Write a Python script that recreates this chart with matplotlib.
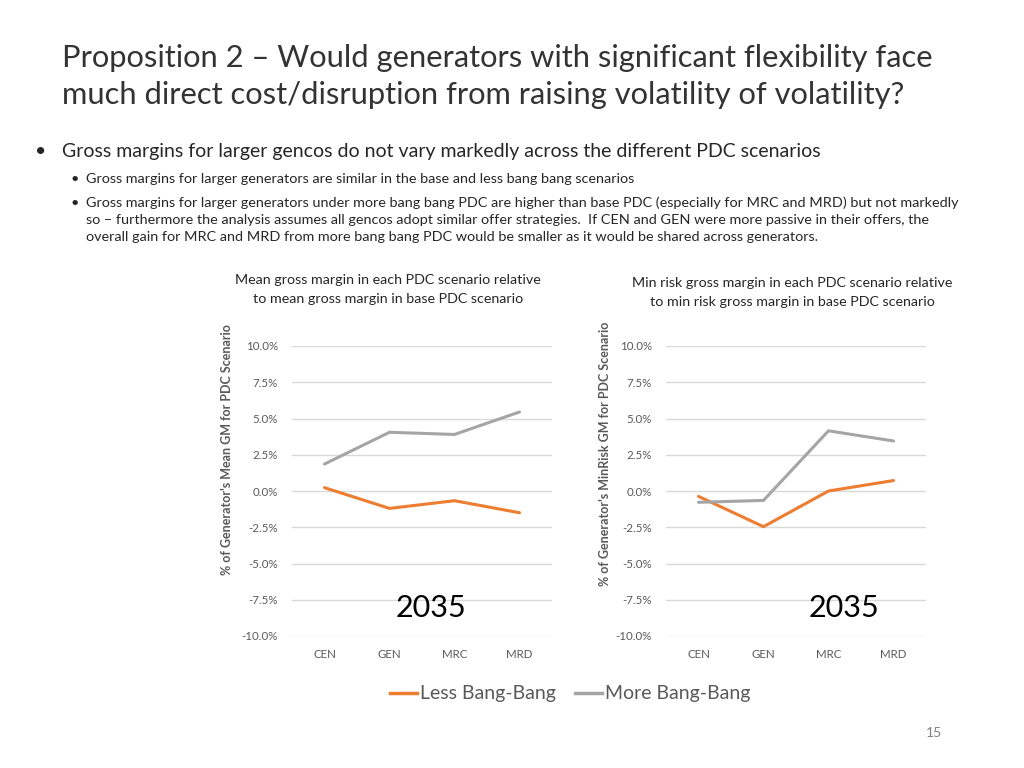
import matplotlib.pyplot as plt
import matplotlib.lines as mlines

categories = ["CEN", "GEN", "MRC", "MRD"]
yticks = [-10, -7.5, -5, -2.5, 0, 2.5, 5, 7.5, 10]

mean_less = [0.23, -1.2, -0.67, -1.5]
mean_more = [1.86, 4.05, 3.9, 5.45]
minrisk_less = [-0.37, -2.46, 0.0, 0.72]
minrisk_more = [-0.78, -0.65, 4.15, 3.45]

ORANGE = "#ED7D31"
GREY = "#A5A5A5"
TXT = "#595959"

plt.rcParams["font.family"] = ["Lato", "DejaVu Sans"]

fig = plt.figure(figsize=(10.24, 7.68), dpi=100)

# slide title and bullets
fig.text(62 / 1024, 1 - 58 / 768, "Proposition 2 \u2013 Would generators with significant flexibility face",
         fontsize=22.2, color="#333333", va="center", ha="left")
fig.text(62 / 1024, 1 - 95 / 768, "much direct cost/disruption from raising volatility of volatility?",
         fontsize=22.2, color="#333333", va="center", ha="left")

fig.text(35 / 1024, 1 - 152 / 768, "\u2022", fontsize=14, va="center", color="#262626")
fig.text(62 / 1024, 1 - 152 / 768,
         "Gross margins for larger gencos do not vary markedly across the different PDC scenarios",
         fontsize=14, va="center", color="#262626")
subs = [
    (179, "Gross margins for larger generators are similar in the base and less bang bang scenarios", True),
    (203, "Gross margins for larger generators under more bang bang PDC are higher than base PDC (especially for MRC and MRD) but not markedly", True),
    (220, "so \u2013 furthermore the analysis assumes all gencos adopt similar offer strategies.  If CEN and GEN were more passive in their offers, the", False),
    (237, "overall gain for MRC and MRD from more bang bang PDC would be smaller as it would be shared across generators.", False),
]
for y, s, bullet in subs:
    if bullet:
        fig.text(70 / 1024, 1 - y / 768, "\u2022", fontsize=10.4, va="center", color="#262626")
    fig.text(86 / 1024, 1 - y / 768, s, fontsize=10.4, va="center", color="#262626")


def panel(left, less, more, title1, title2, ylabel, ylab_pos, tx, title_pos):
    ax = fig.add_axes([left / 1024, 1 - 636 / 768, 260 / 1024, 290 / 768])
    x = range(len(categories))
    ax.plot(x, less, color=ORANGE, lw=2.2, solid_capstyle="round")
    ax.plot(x, more, color=GREY, lw=2.2, solid_capstyle="round")
    ax.set_xlim(-0.5, 3.5)
    ax.set_ylim(-10, 10)
    ax.set_yticks(yticks)
    ax.set_yticklabels([f"{v:.1f}%" for v in yticks])
    ax.set_xticks(list(x))
    ax.set_xticklabels(categories)
    ax.tick_params(length=0, labelsize=8.3, labelcolor=TXT, pad=10)
    ax.tick_params(axis="x", pad=9)
    ax.grid(axis="y", color="#D9D9D9", lw=1)
    ax.set_axisbelow(True)
    for s in ax.spines.values():
        s.set_visible(False)
    fig.text(ylab_pos[0] / 1024, 1 - ylab_pos[1] / 768, ylabel, fontsize=9, fontweight="bold",
             color=TXT, rotation=90, ha="center", va="center")
    fig.text(tx / 1024, 1 - 608 / 768, "2035", fontsize=22, color="black", ha="center", va="center")
    fig.text(title_pos[0] / 1024, 1 - title_pos[1] / 768, title1, fontsize=10.3, color="#262626",
             ha="center", va="center")
    fig.text(title_pos[0] / 1024, 1 - (title_pos[1] + 19) / 768, title2, fontsize=10.3, color="#262626",
             ha="center", va="center")
    return ax


panel(292, mean_less, mean_more,
      "Mean gross margin in each PDC scenario relative",
      "to mean gross margin in base PDC scenario",
      "% of Generator's Mean GM for PDC Scenario", (227, 450), 431, (388, 280))
panel(666, minrisk_less, minrisk_more,
      "Min risk gross margin in each PDC scenario relative",
      "to min risk gross margin in base PDC scenario",
      "% of Generator's MinRisk GM for PDC Scenario", (605, 454), 844, (792, 283))

handles = [mlines.Line2D([], [], color=ORANGE, lw=2.5, label="Less Bang-Bang"),
           mlines.Line2D([], [], color=GREY, lw=2.5, label="More Bang-Bang")]
fig.legend(handles=handles, loc="center", bbox_to_anchor=(570 / 1024, 1 - 694 / 768), ncol=2,
           frameon=False, fontsize=14, labelcolor=TXT, handlelength=1.4, handletextpad=0.15,
           columnspacing=1.0)

fig.text(934 / 1024, 1 - 733 / 768, "15", fontsize=10, color="#7F7F7F", ha="center", va="center")

fig.savefig("out.png", dpi=100)
